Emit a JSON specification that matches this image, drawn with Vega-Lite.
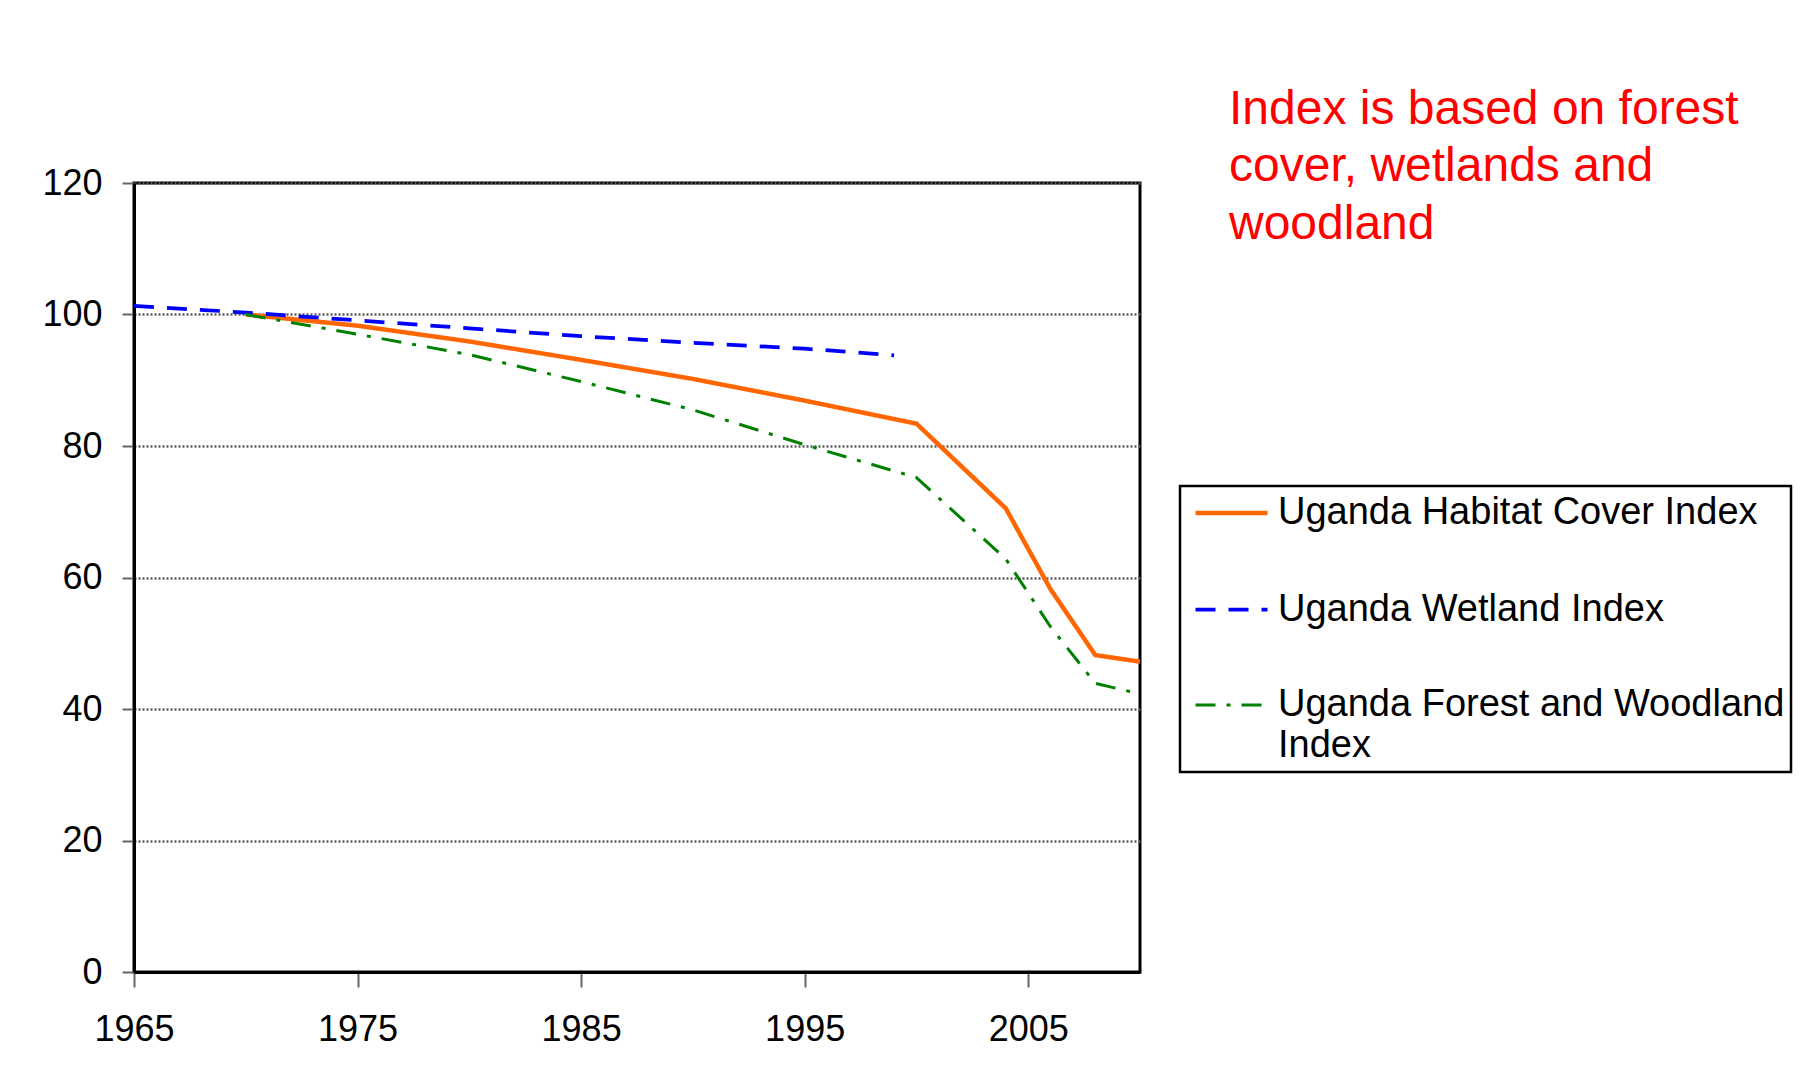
{
  "$schema": "https://vega.github.io/schema/vega-lite/v6.json",
  "width": 1006,
  "height": 789,
  "autosize": {"type": "none"},
  "padding": {"left": 134, "top": 183, "right": 678, "bottom": 97},
  "background": "white",
  "title": {
    "text": ["Index is based on forest", "cover, wetlands and", "woodland"],
    "anchor": "start",
    "frame": "group",
    "orient": "top",
    "align": "left",
    "baseline": "top",
    "color": "#FF0000",
    "font": "Liberation Sans",
    "fontSize": 48,
    "fontWeight": "normal",
    "lineHeight": 57.5,
    "dx": 1095,
    "dy": 83.5,
    "offset": 0
  },
  "config": {
    "font": "Liberation Sans",
    "view": {"stroke": "black", "strokeWidth": 3},
    "legend": {"strokeWidth": 2.5},
    "axis": {
      "labelFont": "Liberation Sans",
      "labelFontSize": 36,
      "labelColor": "black",
      "domainColor": "black",
      "domainWidth": 3,
      "tickColor": "#666666",
      "tickWidth": 2,
      "title": null
    }
  },
  "data": {
    "values": [
      {"year": 1970, "series": "Uganda Habitat Cover Index", "value": 100},
      {"year": 1975, "series": "Uganda Habitat Cover Index", "value": 98.3},
      {"year": 1980, "series": "Uganda Habitat Cover Index", "value": 95.9},
      {"year": 1985, "series": "Uganda Habitat Cover Index", "value": 93.1},
      {"year": 1990, "series": "Uganda Habitat Cover Index", "value": 90.2},
      {"year": 1995, "series": "Uganda Habitat Cover Index", "value": 86.9},
      {"year": 2000, "series": "Uganda Habitat Cover Index", "value": 83.4},
      {"year": 2004, "series": "Uganda Habitat Cover Index", "value": 70.5},
      {"year": 2006, "series": "Uganda Habitat Cover Index", "value": 58.2},
      {"year": 2008, "series": "Uganda Habitat Cover Index", "value": 48.2},
      {"year": 2010, "series": "Uganda Habitat Cover Index", "value": 47.2},
      {"year": 1965, "series": "Uganda Wetland Index", "value": 101.3},
      {"year": 1970, "series": "Uganda Wetland Index", "value": 100.3},
      {"year": 1975, "series": "Uganda Wetland Index", "value": 99.1},
      {"year": 1980, "series": "Uganda Wetland Index", "value": 97.9},
      {"year": 1985, "series": "Uganda Wetland Index", "value": 96.7},
      {"year": 1990, "series": "Uganda Wetland Index", "value": 95.7},
      {"year": 1995, "series": "Uganda Wetland Index", "value": 94.8},
      {"year": 1999, "series": "Uganda Wetland Index", "value": 93.8},
      {"year": 1970, "series": "Uganda Forest and Woodland Index", "value": 100},
      {"year": 1975, "series": "Uganda Forest and Woodland Index", "value": 97.0},
      {"year": 1980, "series": "Uganda Forest and Woodland Index", "value": 93.9},
      {"year": 1985, "series": "Uganda Forest and Woodland Index", "value": 89.8},
      {"year": 1990, "series": "Uganda Forest and Woodland Index", "value": 85.5},
      {"year": 1995, "series": "Uganda Forest and Woodland Index", "value": 80.2},
      {"year": 2000, "series": "Uganda Forest and Woodland Index", "value": 75.2},
      {"year": 2004, "series": "Uganda Forest and Woodland Index", "value": 62.8},
      {"year": 2006, "series": "Uganda Forest and Woodland Index", "value": 52.5},
      {"year": 2008, "series": "Uganda Forest and Woodland Index", "value": 43.9},
      {"year": 2010, "series": "Uganda Forest and Woodland Index", "value": 42.3}
    ]
  },
  "mark": {"type": "line", "strokeCap": "butt"},
  "encoding": {
    "x": {
      "field": "year",
      "type": "quantitative",
      "scale": {"domain": [1965, 2010], "nice": false, "zero": false},
      "axis": {
        "values": [1965, 1975, 1985, 1995, 2005],
        "format": "d",
        "tickSize": 15,
        "labelPadding": 25,
        "grid": false,
        "labelFlush": false
      }
    },
    "y": {
      "field": "value",
      "type": "quantitative",
      "scale": {"domain": [0, 120], "nice": false},
      "axis": {
        "values": [0, 20, 40, 60, 80, 100, 120],
        "tickSize": 12,
        "labelPadding": 20,
        "grid": true,
        "gridColor": "#5a5a5a",
        "gridDash": [2, 2],
        "gridWidth": 2.5,
        "labelFlush": false
      }
    },
    "color": {
      "field": "series",
      "type": "nominal",
      "scale": {
        "domain": ["Uganda Habitat Cover Index", "Uganda Wetland Index", "Uganda Forest and Woodland Index"],
        "range": ["#FF6600", "#0000FF", "#008000"]
      },
      "legend": {
        "title": null,
        "orient": "none",
        "legendX": 1046,
        "legendY": 303,
        "strokeColor": "black",
        "padding": 6.5,
        "symbolType": "M-2,0H2",
        "symbolSize": 1296,
        "symbolOffset": 24.5,
        "labelFont": "Liberation Sans",
        "labelFontSize": 38,
        "labelColor": "black",
        "labelLimit": 700,
        "labelOffset": 26,
        "rowPadding": 57,
        "labelExpr": "datum.value == 'Uganda Forest and Woodland Index' ? ['Uganda Forest and Woodland', 'Index'] : datum.label",
        "encode": {
          "labels": {
            "update": {
              "lineHeight": {"value": 41}
            }
          }
        }
      }
    },
    "strokeDash": {
      "field": "series",
      "type": "nominal",
      "scale": {
        "domain": ["Uganda Habitat Cover Index", "Uganda Wetland Index", "Uganda Forest and Woodland Index"],
        "range": [[1, 0], [20, 13], [20, 11, 4, 11]]
      },
      "legend": null
    },
    "strokeWidth": {
      "field": "series",
      "type": "nominal",
      "scale": {
        "domain": ["Uganda Habitat Cover Index", "Uganda Wetland Index", "Uganda Forest and Woodland Index"],
        "range": [4.5, 3, 2.5]
      },
      "legend": null
    }
  }
}
